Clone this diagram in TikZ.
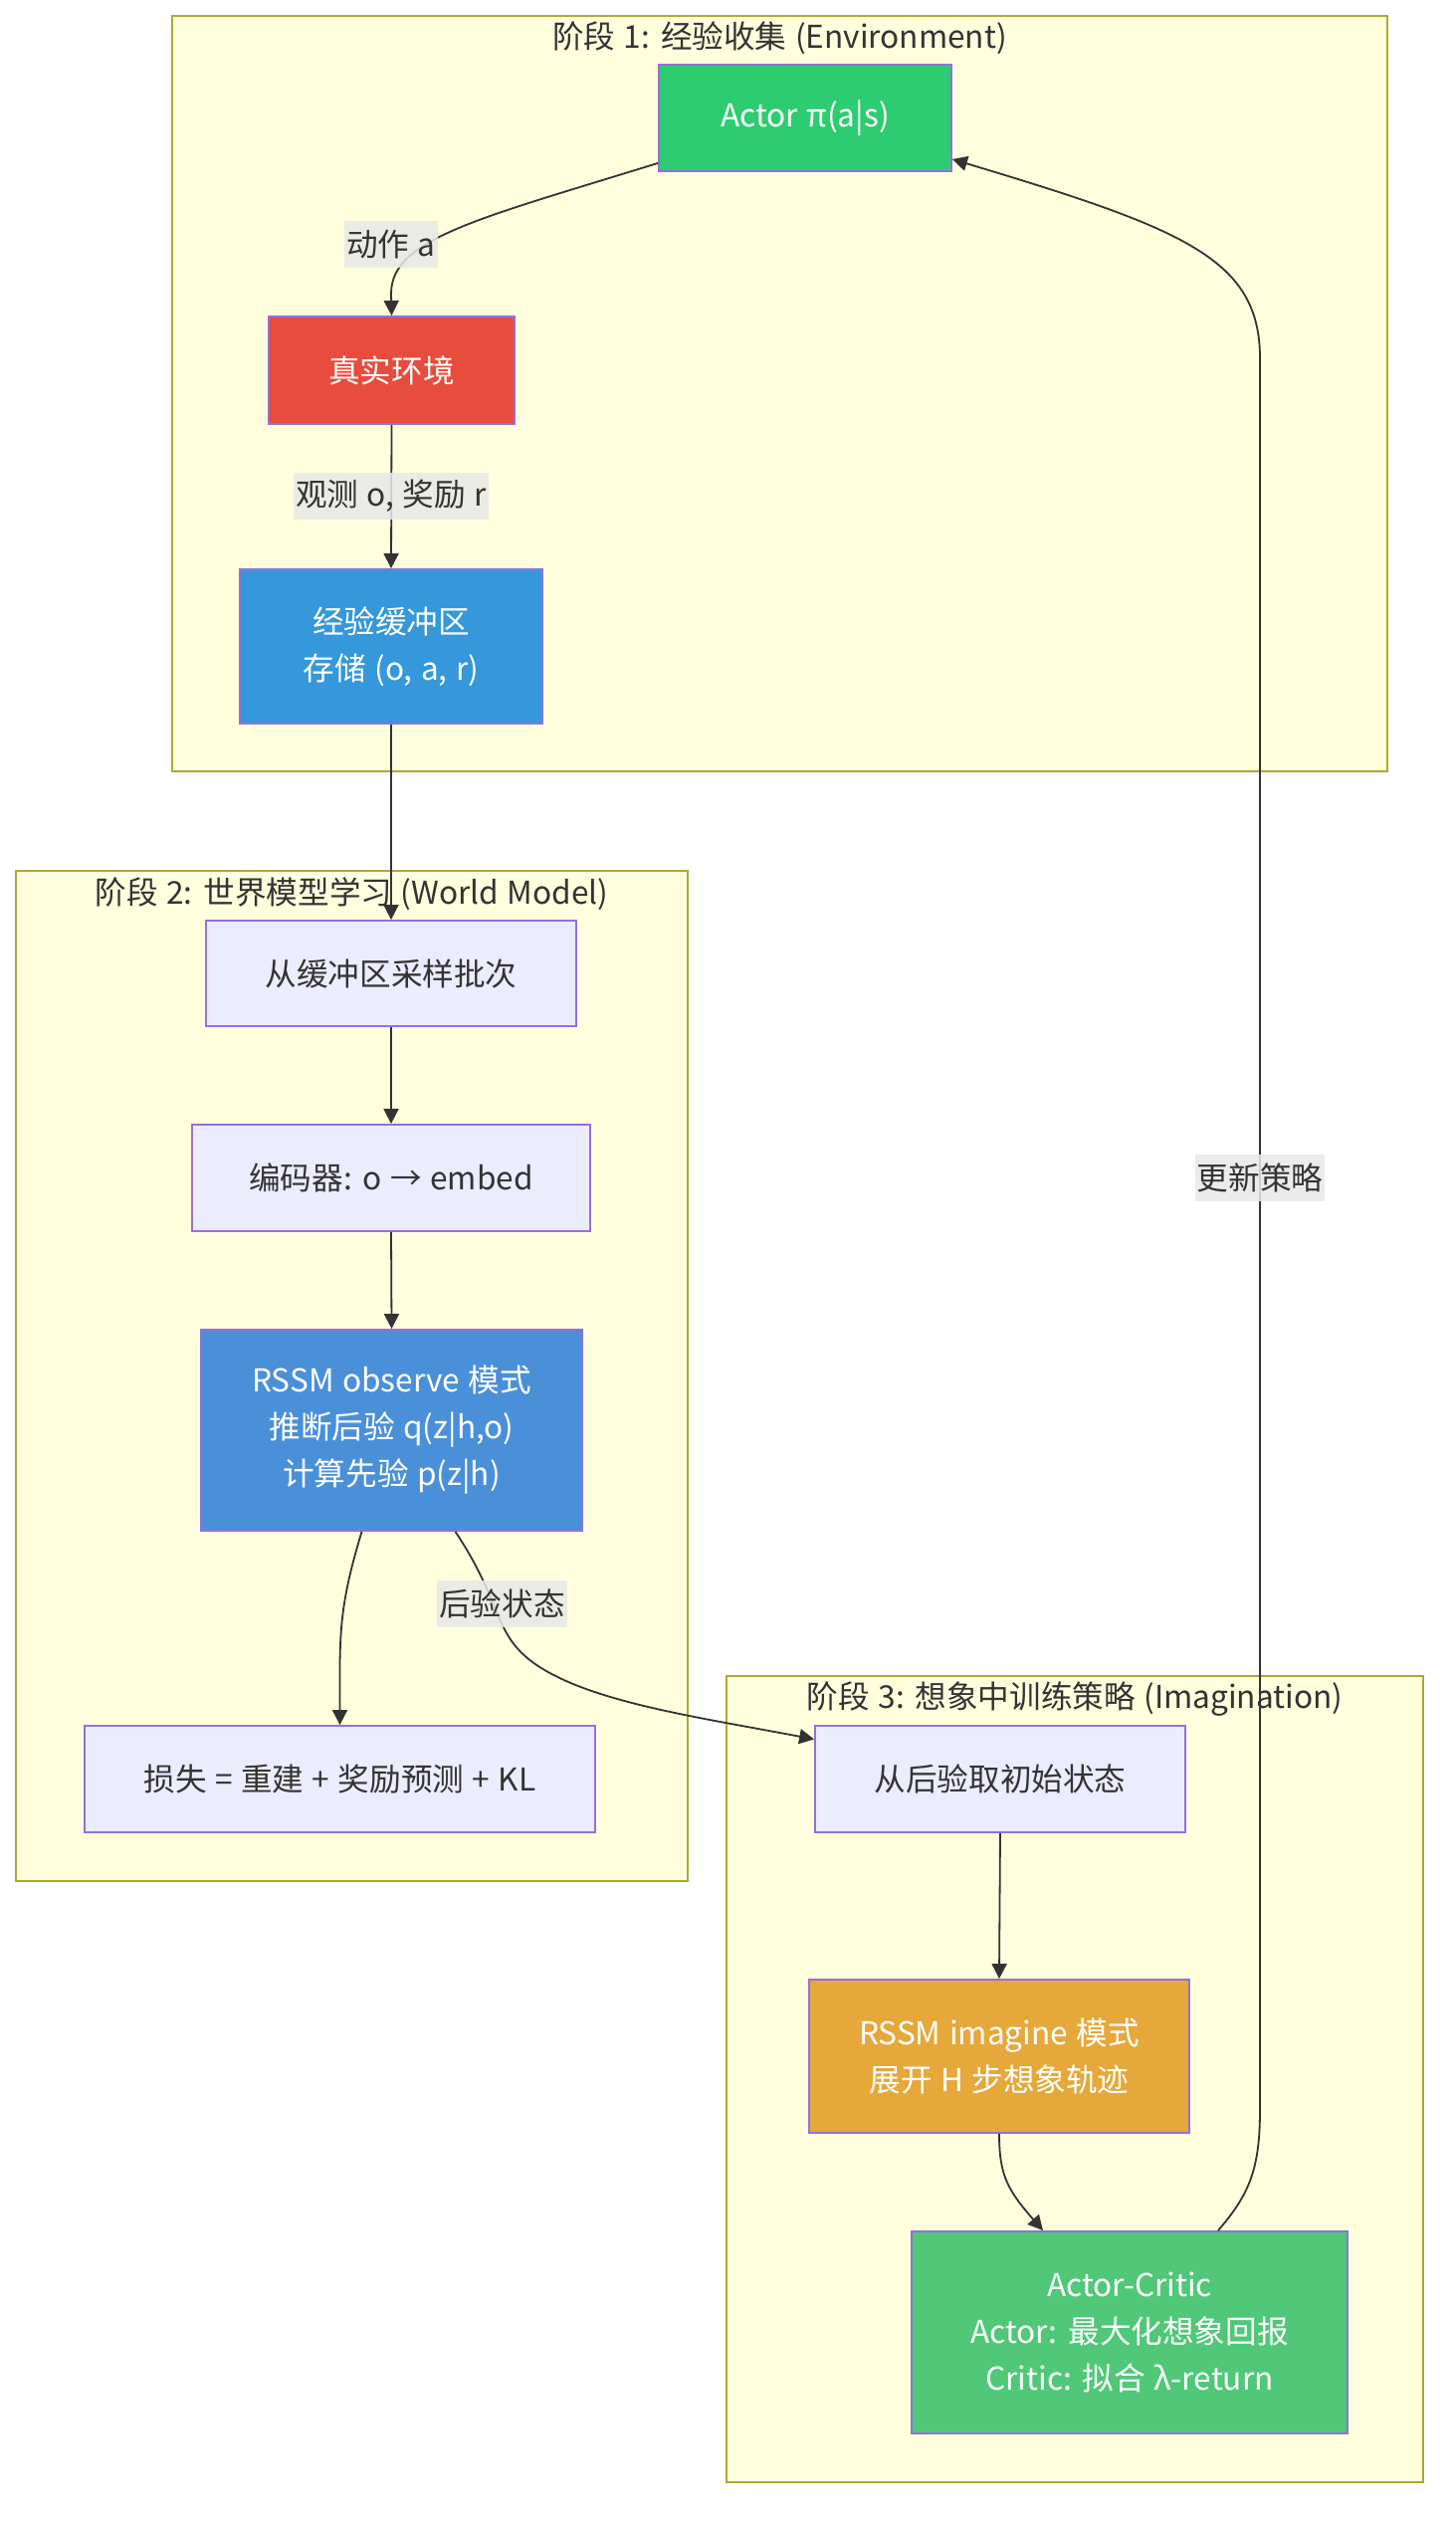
\documentclass[tikz,border=0pt]{standalone}
\usepackage{fontspec}
\setmainfont{Noto Sans CJK SC}[WordSpace=1.2]
\usetikzlibrary{arrows.meta}
\definecolor{phasefill}{HTML}{FFFFDE}
\definecolor{phaseline}{HTML}{AAAA33}
\definecolor{boxfill}{HTML}{ECECFF}
\definecolor{boxline}{HTML}{9370DB}
\definecolor{ink}{HTML}{333333}
\definecolor{labelfill}{HTML}{E8E8E8}
\definecolor{actorgreen}{HTML}{2ECC71}
\definecolor{envred}{HTML}{E74C3C}
\definecolor{bufblue}{HTML}{3498DB}
\definecolor{obsblue}{HTML}{4A90D9}
\definecolor{imagorange}{HTML}{E6A83A}
\definecolor{acgreen}{HTML}{50C878}

\begin{document}
\begin{tikzpicture}[x=0.5pt,y=-0.5pt,
  txt/.style={font=\fontsize{15.8}{23.5}\selectfont},
  box/.style={txt,draw=boxline,line width=0.9pt,fill=boxfill,text=ink,align=center,inner sep=0pt},
  dark/.style={box,text=white},
  phase/.style={draw=phaseline,line width=0.9pt,fill=phasefill},
  phasetitle/.style={txt,text=ink,inner sep=0pt},
  elabel/.style={txt,text=ink,fill=labelfill,fill opacity=0.85,text opacity=1,inner xsep=1pt,inner ysep=0pt,minimum height=23.5pt},
  edge/.style={draw=ink,line width=0.9pt,-{Triangle[length=7.5pt,width=7.5pt]}}]

	\fill[white] (0,0) rectangle (1462,2536);
	\useasboundingbox (0,0) rectangle (1462,2536);

	\draw[phase] (173,16) rectangle (1394,775);
	\node[phasetitle] (t1) at (783.5,38) {阶段 1: 经验收集 (Environment)};
	\draw[phase] (16,875) rectangle (691,1890);
	\node[phasetitle] (t2) at (353.5,898) {阶段 2: 世界模型学习 (World Model)};
	\draw[phase] (730,1684) rectangle (1430,2494);
	\node[phasetitle] (t3) at (1080,1707) {阶段 3: 想象中训练策略 (Imagination)};

	\node[dark,fill=actorgreen,minimum width=147pt,minimum height=53.5pt] (actor) at (809,118.5) {Actor π(a|s)};
	\node[dark,fill=envred,minimum width=123.5pt,minimum height=54pt] (env) at (393.5,372) {真实环境};
	\node[dark,fill=bufblue,minimum width=152pt,minimum height=77.5pt] (buf) at (393,649.5) {经验缓冲区\\存储 (o, a, r)};

	\node[box,minimum width=186pt,minimum height=53pt] (sample) at (393,978) {从缓冲区采样批次};
	\node[box,minimum width=200pt,minimum height=53.5pt] (enc) at (393,1183.5) {编码器: o → embed};
	\node[dark,fill=obsblue,minimum width=191.5pt,minimum height=101pt] (obs) at (393.5,1437) {RSSM observe 模式\\推断后验 q(z|h,o)\\计算先验 p(z|h)};
	\node[box,minimum width=256.5pt,minimum height=53.5pt] (loss) at (341.5,1787.5) {损失 = 重建 + 奖励预测 + KL};

	\node[box,minimum width=186pt,minimum height=53.5pt] (init) at (1005,1787.5) {从后验取初始状态};
	\node[dark,fill=imagorange,minimum width=191pt,minimum height=77pt] (imag) at (1004,2066) {RSSM imagine 模式\\展开 H 步想象轨迹};
	\node[dark,fill=acgreen,minimum width=219pt,minimum height=101.5pt] (ac) at (1135,2343.5) {Actor-Critic\\Actor: 最大化想象回报\\Critic: 拟合 λ-return};

	\draw[edge] ([yshift=4.5pt]actor.south west) .. controls (480,220) and (393,240) .. (393,295) -- (env.north);
	\node[elabel] (la) at (393,245.5) {动作 a};
	\draw[edge] (env.south) -- (buf.north);
	\node[elabel] (lo) at (393,498.5) {观测 o, 奖励 r};
	\draw[edge] (buf.south) -- (sample.north);
	\draw[edge] (sample.south) -- (enc.north);
	\draw[edge] (enc.south) -- (obs.north);
	\draw[edge] ([xshift=-15pt]obs.south) .. controls (345,1600) and (341.5,1630) .. (341.5,1680) -- (loss.north);
	\draw[edge] ([xshift=32pt]obs.south) .. controls (505,1610) and (495,1640) .. (535,1670) .. controls (590,1710) and (700,1725) .. ([yshift=20pt]init.west);
	\node[elabel] (lp) at (504.5,1611) {后验状态};
	\draw[edge] (init.south) -- (imag.north);
	\draw[edge] (imag.south) .. controls (1004,2185) and (1012,2200) .. ([xshift=-43.5pt]ac.north);
	\draw[edge] ([xshift=44.5pt]ac.north) .. controls (1255,2205) and (1266,2180) .. (1266,2120) -- (1266,360) .. controls (1266,260) and (1190,230) .. ([yshift=-20.75pt]actor.east);
	\node[elabel] (lu) at (1266,1183.5) {更新策略};
\end{tikzpicture}
\end{document}
